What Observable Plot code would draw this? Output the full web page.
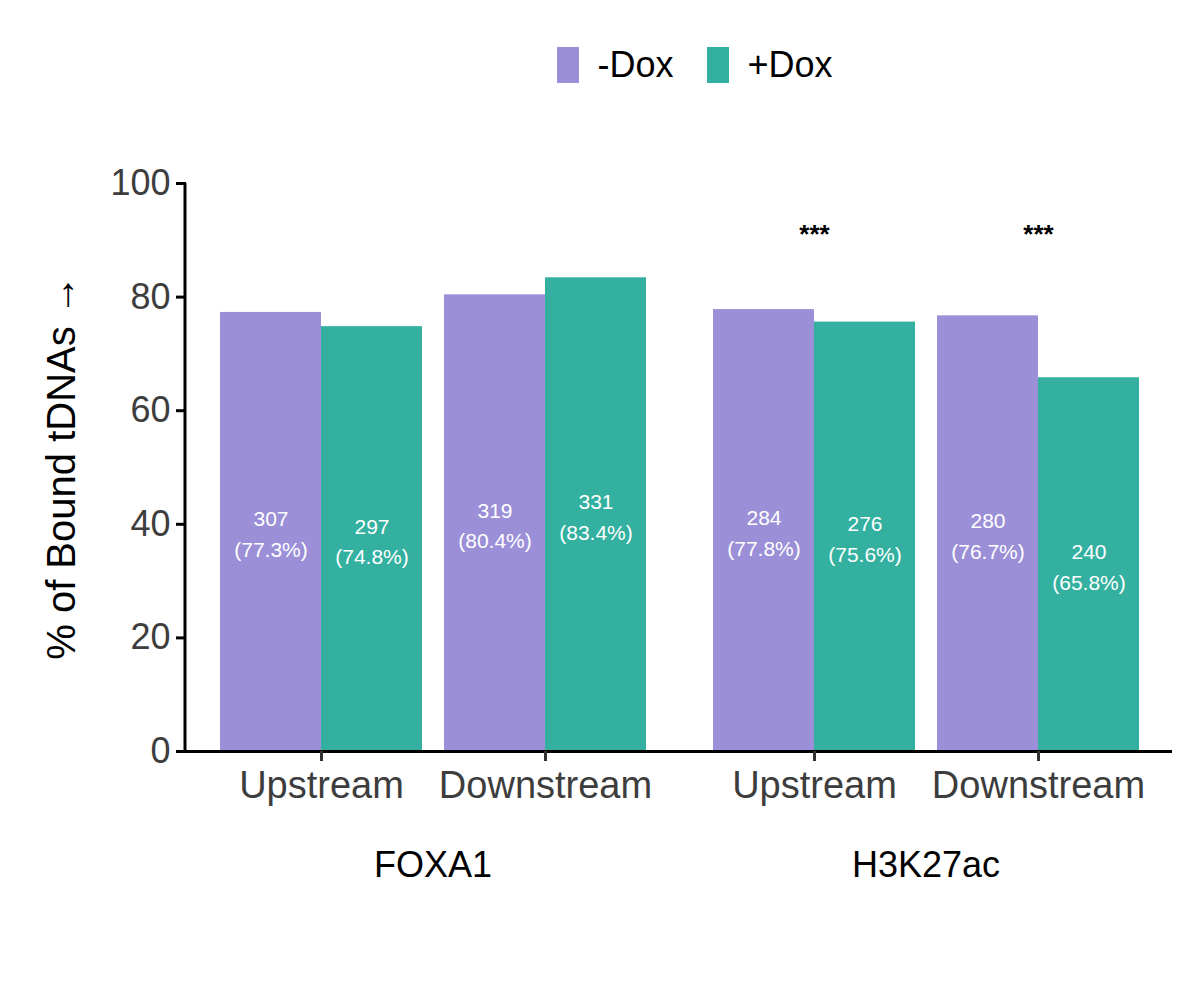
<!DOCTYPE html>
<html>
<head>
<meta charset="utf-8">
<script src="https://cdn.jsdelivr.net/npm/d3@7"></script>
<script src="https://cdn.jsdelivr.net/npm/@observablehq/plot@0.6"></script>
<style>
  body { margin: 0; background: #fff; font-family: "Liberation Sans", Arial, sans-serif; }
  #legend { height: 140px; display: flex; justify-content: center; align-items: center; gap: 34px; padding-left: 190px; box-sizing: border-box; padding-bottom: 10px; font-size: 36px; color: #000; }
  #legend span.sw { display: inline-block; width: 22px; height: 36px; margin-right: 18px; vertical-align: middle; }
  #legend div { display: flex; align-items: center; }
</style>
</head>
<body>
<div id="legend"></div>
<div id="chart"></div>
<script>
// datos
const antibodies = ["FOXA1", "H3K27ac"];
const regions = ["Upstream", "Downstream"];
const conditions = ["-Dox", "+Dox"];
const colors = ["#9b8fd8", "#33b0a0"];
// orden: FOXA1 Up, FOXA1 Down, H3K27ac Up, H3K27ac Down
const countsMinus = [307, 319, 284, 280];
const pctMinus = [77.3, 80.4, 77.8, 76.7];
const countsPlus = [297, 331, 276, 240];
const pctPlus = [74.8, 83.4, 75.6, 65.8];
const signif = [{antibody: "H3K27ac", region: "Upstream", label: "***"},
                {antibody: "H3K27ac", region: "Downstream", label: "***"}];
const starY = 91;

const rows = [];
antibodies.forEach((a, ai) => regions.forEach((r, ri) => {
  const i = ai * 2 + ri;
  rows.push({antibody: a, region: r, dox: "-Dox", n: countsMinus[i], pct: pctMinus[i]});
  rows.push({antibody: a, region: r, dox: "+Dox", n: countsPlus[i], pct: pctPlus[i]});
}));
const minus = rows.filter(d => d.dox === "-Dox");
const plus = rows.filter(d => d.dox === "+Dox");
const half = 101;
const lbl = d => `${d.n}\n(${d.pct}%)`;

const chart = Plot.plot({
  width: 1200,
  height: 820,
  marginLeft: 185,
  marginRight: 28,
  marginTop: 43,
  marginBottom: 209,
  style: {fontFamily: "'Liberation Sans', Arial, sans-serif", color: "#3d3d3d"},
  fx: {domain: antibodies, paddingInner: 0, paddingOuter: 0},
  x: {domain: regions, paddingInner: 0.1, paddingOuter: 0.147},
  y: {domain: [0, 100]},
  marks: [
    Plot.barY(minus, {fx: "antibody", x: "region", y: "pct", fill: colors[0], insetRight: half}),
    Plot.barY(plus, {fx: "antibody", x: "region", y: "pct", fill: colors[1], insetLeft: half}),
    Plot.text(minus, {fx: "antibody", x: "region", y: d => d.pct / 2, text: lbl, dx: -half / 2, fill: "white", fontSize: 21, lineHeight: 1.45}),
    Plot.text(plus, {fx: "antibody", x: "region", y: d => d.pct / 2, text: lbl, dx: half / 2, fill: "white", fontSize: 21, lineHeight: 1.45}),
    Plot.text(signif, {fx: "antibody", x: "region", y: () => starY, text: "label", fill: "black", fontSize: 26, fontWeight: "bold"}),
    Plot.ruleY([0], {stroke: "black", strokeWidth: 3}),
    Plot.axisY({ticks: [0, 20, 40, 60, 80, 100], tickSize: 10, tickPadding: 6, fontSize: 36, label: "% of Bound tDNAs", labelAnchor: "center", labelOffset: 140, stroke: "black", strokeWidth: 3}),
    Plot.axisX({tickSize: 10, tickPadding: 10, fontSize: 38, label: null, stroke: "#333", strokeWidth: 3}),
    Plot.axisFx({anchor: "bottom", tickSize: 0, tickPadding: 100, fontSize: 36, label: null, fill: "#000"})
  ]
});

// línea del eje y
const svg = d3.select(chart);
svg.append("line")
  .attr("x1", 185).attr("x2", 185)
  .attr("y1", 43).attr("y2", 820 - 209)
  .attr("stroke", "black").attr("stroke-width", 3);
svg.selectAll("[aria-label='y-axis label'] text").attr("fill", "#000").style("font-size", "40px");

d3.select("#chart").append(() => chart);

const leg = d3.select("#legend");
conditions.forEach((c, i) => {
  const item = leg.append("div");
  item.append("span").attr("class", "sw").style("background", colors[i]);
  item.append("span").text(c);
});
</script>
</body>
</html>
